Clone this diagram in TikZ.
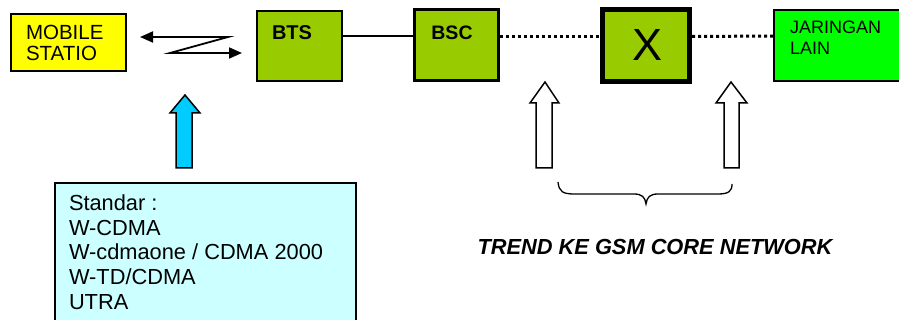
\documentclass[tikz,border=0pt]{standalone}
\usepackage{fontspec}
\setmainfont{Liberation Sans}
\usetikzlibrary{arrows.meta,calc}
\definecolor{msyellow}{HTML}{FFFF00}
\definecolor{olivegreen}{HTML}{99CC00}
\definecolor{brightgreen}{HTML}{00FF00}
\definecolor{paleblue}{HTML}{CCFFFF}
\definecolor{skyarrow}{HTML}{00CCFF}
\newcommand\setfs[2]{\fontsize{#1}{#2}\selectfont}
\tikzset{
  box/.style={draw=black, line width=1.5pt, inner sep=0pt, outer sep=0pt, anchor=north west},
  lbl/.style={inner sep=0pt, outer sep=0pt, align=left},
  wire/.style={line width=2pt},
  dotline/.style={line width=3pt, dash pattern=on 3pt off 3pt},
  fatarrow/.style={draw=black, line width=1.5pt, line join=miter},
  radio/.style={line width=1.8pt, {Triangle[length=13pt,width=11pt]}-{Triangle[length=13pt,width=11pt]}}
}
\begin{document}
\begin{tikzpicture}[x=1pt,y=-1pt]
\useasboundingbox (0,0) rectangle (899,320);
\clip (0,0) rectangle (899,320);
\fill[white] (0,0) rectangle (899,320);

% network elements
\node[box, fill=msyellow, minimum width=115pt, minimum height=57pt] (ms) at (11,14) {};
\node[lbl, anchor=west, font=\setfs{20.5}{21}] (mst) at (26,43) {MOBILE\\STATIO};

\node[box, fill=olivegreen, minimum width=85pt, minimum height=70pt] (bts) at (257,11) {};
\node[lbl, font=\bfseries\setfs{20}{21}] (btst) at (292,33) {BTS};

\node[box, fill=olivegreen, line width=3pt, minimum width=84pt, minimum height=71pt] (bsc) at (414.5,9.5) {};
\node[lbl, font=\bfseries\setfs{19.5}{21}] (bsct) at (452,33) {BSC};

\node[box, fill=olivegreen, line width=5pt, minimum width=87pt, minimum height=72pt] (xsw) at (602.5,9.5) {};
\node[lbl, font=\setfs{45}{45}] (xswt) at (647,45) {X};

\node[box, fill=brightgreen, minimum width=140pt, minimum height=71pt] (jar) at (774,10) {};
\node[lbl, anchor=north west, font=\setfs{18}{21}] (jart) at (790,20.5) {JARINGAN\\LAIN};

% standards box
\node[box, fill=paleblue, minimum width=301pt, minimum height=160pt] (std) at (55,183) {};
\node[lbl, anchor=north west, font=\setfs{21.8}{24.75}] (stdt) at (69,194.5)
  {Standar :\\W-CDMA\\W-cdmaone / CDMA 2000\\W-TD/CDMA\\UTRA};

% links
\coordinate (zl) at (140,37);
\coordinate (za) at (228,37);
\coordinate (zb) at (170,53);
\coordinate (zr) at (242,53);
\draw[radio] (zl) -- (za) -- (zb) -- (zr);
\draw[wire] ($(bts.north east)+(0,25.5)$) -- ($(bsc.north west)+(0,27)$);
\draw[dotline] ($(bsc.north east)+(1.5,27)$) -- ($(xsw.north west)+(-2.5,27)$);
\draw[dotline] ($(xsw.north east)+(2.5,27)$) -- ($(jar.north west)+(0,26)$);

% block arrows
\draw[fatarrow, fill=skyarrow] (176,168) -- (176,113) -- (170,113) -- (185,95)
  -- (200,113) -- (192,113) -- (192,168) -- cycle;
\draw[fatarrow, fill=white] (536,168) -- (536,103) -- (530,103) -- (545,82)
  -- (559,103) -- (552,103) -- (552,168) -- cycle;
\draw[fatarrow, fill=white] (724,168) -- (724,103) -- (716,103) -- (731,82)
  -- (747,103) -- (739,103) -- (739,168) -- cycle;

% brace and caption
\draw[line width=1.3pt] (558,182) .. controls (559,192) and (563,194) .. (575,194)
  -- (634,194) .. controls (642,194) and (645,197) .. (646,204)
  .. controls (647,197) and (650,194) .. (658,194)
  -- (718,194) .. controls (729,194) and (732,191) .. (732,184);
\node[lbl, font=\bfseries\itshape\setfs{21.8}{24}] (trend) at (655,247) {TREND KE GSM CORE NETWORK};
\end{tikzpicture}
\end{document}
